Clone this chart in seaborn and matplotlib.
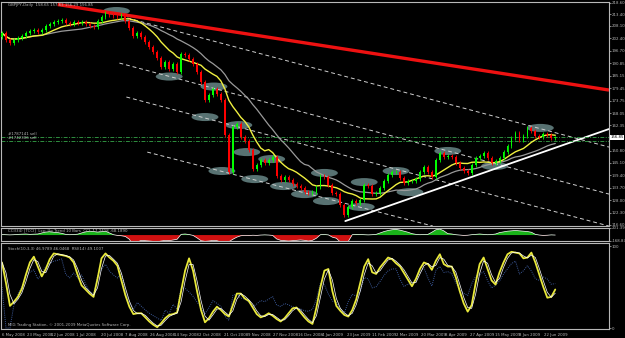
import numpy as np
import pandas as pd
import matplotlib
matplotlib.use("Agg")
import matplotlib.pyplot as plt
from matplotlib.patches import Ellipse
import seaborn as sns

# daily closes (one value per candle)
closes = [204.8, 201.6, 200.2, 201.6, 202.5, 203.4, 204.8, 205.7, 206.2, 205.3,
          206.2, 208.0, 209.0, 209.9, 210.3, 210.8, 209.4, 209.0, 209.9, 209.4,
          209.9, 209.0, 208.0, 207.6, 210.3, 212.2, 214.0, 213.1, 212.6, 212.2,
          213.1, 210.3, 207.1, 203.4, 204.8, 203.0, 200.7, 198.4, 196.1, 193.3,
          189.2, 191.5, 188.3, 190.6, 186.9, 195.2, 194.7, 192.9, 190.6, 186.9,
          182.3, 174.0, 176.3, 179.1, 176.8, 174.0, 157.9, 140.9, 161.6, 163.0,
          157.0, 155.2, 151.0, 142.3, 144.2, 146.5, 145.1, 146.5, 147.8, 139.1,
          137.3, 138.6, 137.3, 135.4, 134.5, 133.6, 131.7, 131.3, 131.7, 134.0,
          139.1, 138.6, 135.0, 131.3, 130.8, 125.8, 121.2, 124.9, 127.6, 126.7,
          128.1, 135.0, 134.5, 130.8, 131.3, 133.6, 136.8, 139.6, 140.9, 140.9,
          138.2, 135.9, 136.8, 136.8, 137.7, 140.9, 143.2, 140.9, 138.6, 146.5,
          149.7, 147.8, 148.3, 147.8, 145.1, 142.8, 141.4, 140.5, 144.2, 147.4,
          148.3, 149.7, 147.4, 145.1, 146.0, 147.4, 150.1, 152.9, 156.6, 158.9,
          155.6, 157.5, 161.2, 159.8, 157.5, 157.0, 158.4, 157.9, 156.6, 156.8]
first_open = 203.0

stoch_main = [80, 55, 27, 32, 38, 48, 65, 80, 87, 75, 63, 72, 84, 91, 90, 89, 88, 86, 80, 65,
              52, 47, 42, 38, 60, 85, 91, 86, 82, 76, 58, 40, 26, 17, 18, 18, 13, 8, 4, 1,
              6, 12, 16, 17, 19, 45, 70, 85, 70, 45, 22, 7, 12, 20, 26, 22, 17, 14, 28, 42,
              42, 36, 33, 25, 17, 13, 15, 18, 15, 11, 8, 12, 18, 24, 25, 19, 13, 8, 5, 25,
              50, 70, 72, 45, 27, 21, 16, 14, 22, 35, 55, 75, 84, 68, 66, 74, 80, 86, 84, 79,
              75, 67, 59, 51, 60, 72, 80, 78, 71, 82, 90, 78, 75, 75, 62, 45, 30, 20, 28, 55,
              78, 86, 72, 58, 53, 68, 80, 90, 93, 92, 91, 85, 86, 92, 80, 65, 50, 37, 38, 47]

cci_values = [15, 10, 5, 10, 20, 25, 30, 20, 25, 30,
              60, 85, 95, 80, 70, 50, 20, 10, 15, 25,
              60, 90, 110, 100, 85, 95, 110, 60, 10, -10, -20, -40,
              -120, -300, -200, -150, -160, -170, -180, -190, -170, -150, -160, -140, -120,
              20, 30, 15, -10,
              -80, -160, -180, -170, -150, -160, -200, -220, -190, -120, -60,
              -20, -10, -15, -5, -10, 0, 5, 0, -10,
              -110, -150, -160, -170, -160, -150, -140, -150, -170, -150, -90,
              10, 15, 5, -60, -90, -200, -320, -180,
              10, 20, 15, 10, 5, 10, 20,
              60, 100, 130, 150, 160, 140, 110, 80, 40,
              20, 10, 15, 20, 80, 150, 170, 120,
              40, 30, 10, 0, -10, -5, 10, 20, 30, 20, 10, 15, 30,
              70, 90, 110, 120, 130, 120, 110, 100, 80,
              20, 0, -10, -5, 5, 0]

date_labels = ["6 May 2008", "23 May 2008", "12 Jun 2008", "1 Jul 2008", "20 Jul 2008",
               "7 Aug 2008", "26 Aug 2008", "14 Sep 2008", "2 Oct 2008", "21 Oct 2008",
               "9 Nov 2008", "27 Nov 2008", "16 Dec 2008", "4 Jan 2009", "23 Jan 2009",
               "11 Feb 2009", "2 Mar 2009", "20 Mar 2009", "8 Apr 2009", "27 Apr 2009",
               "15 May 2009", "3 Jun 2009", "22 Jun 2009"]

price_ticks = [116.60, 122.30, 128.00, 133.70, 139.40, 145.10, 150.80, 156.50, 162.35,
               168.05, 173.75, 179.45, 185.15, 190.85, 196.70, 202.40, 208.10, 213.40, 218.60]

# marked swing highs / lows (bar, price)
ellipse_bar = [28.75, 42, 51, 53.25, 55.25, 59.5, 61.5, 63.5, 67.75, 70.75,
               76, 81, 81.5, 90.25, 91, 112, 99, 102.5, 123.75, 135.25]
ellipse_price = [214.9, 184.8, 166.2, 180.2, 141.4, 162.5, 150.1, 137.7, 146.9, 134.5,
                 130.8, 140.5, 127.6, 124.9, 136.3, 150.6, 141.4, 131.7, 143.7, 161.2]

# descending channel lines (start bar, start price, end bar, end price)
channel_x0 = [31.5, 29.5, 31.25, 36.5]
channel_y0 = [211.7, 191.0, 175.4, 150.1]
channel_x1 = [152.5, 152.5, 152.5, 108.25]
channel_y1 = [152.4, 130.8, 116.1, 116.1]

resist_x = [14, 152.5]
resist_y = [217.9, 178.6]
support_x = [86.25, 152.5]
support_y = [118.4, 160.7]
order_levels = [156.8, 155.2]
order_names = ["#1787141 sell", "#1742306 sell"]
last_price = 156.85

sns.set_style("dark", {"axes.facecolor": "black", "figure.facecolor": "black"})
plt.rcParams["font.family"] = ["DejaVu Sans"]

n = len(closes)
bars = np.arange(n)
c = pd.Series(closes)
o = c.shift(1).fillna(first_open)
ma_fast = c.rolling(10, min_periods=1).mean()
ma_slow = c.rolling(20, min_periods=1).mean()

delta = c.diff().fillna(0)
gain = delta.clip(lower=0).ewm(alpha=1 / 7, adjust=False).mean()
loss = (-delta.clip(upper=0)).ewm(alpha=1 / 7, adjust=False).mean()
rsi = 100 - 100 / (1 + gain / loss.replace(0, np.nan))
rsi = rsi.fillna(50)
stoch = pd.Series(stoch_main, dtype=float)
stoch_sig = stoch.rolling(2, min_periods=1).mean()

fig = plt.figure(figsize=(6.25, 3.38), dpi=100)
fig.patch.set_facecolor("black")
ax = fig.add_axes([0.0016, 0.3314, 0.9728, 0.6627])
ax_cci = fig.add_axes([0.0016, 0.2870, 0.9728, 0.0385], sharex=ax)
ax_st = fig.add_axes([0.0016, 0.0266, 0.9728, 0.2544], sharex=ax)

grey = "#b8b8b8"
tiny = 2.8
for a in (ax, ax_cci, ax_st):
    a.set_facecolor("black")
    for s in a.spines.values():
        s.set_color(grey)
        s.set_linewidth(0.8)
    a.yaxis.tick_right()
    a.tick_params(axis="y", colors=grey, labelsize=tiny, length=1.2, width=0.5, pad=0.6)
    a.tick_params(axis="x", colors=grey, labelsize=tiny, length=2, width=0.5, pad=0.8)

# ellipses
for bx, py in zip(ellipse_bar, ellipse_price):
    ax.add_patch(Ellipse((bx, py), 6.75, 3.7, facecolor="#587272", edgecolor="none", zorder=1))

# channel
for x0, y0, x1, y1 in zip(channel_x0, channel_y0, channel_x1, channel_y1):
    ax.plot([x0, x1], [y0, y1], color="#d0d0d0", lw=0.7, dashes=(4, 3), zorder=2)
ax.plot(resist_x, resist_y, color="#ee1111", lw=2.4, zorder=2, solid_capstyle="butt")
ax.plot(support_x, support_y, color="white", lw=1.3, zorder=2)
for lvl, name in zip(order_levels, order_names):
    ax.axhline(lvl, color="#2f8f3f", lw=0.7, dashes=(4, 1.5, 1, 1.5), zorder=2)
    ax.text(1.5, lvl + 0.5, name, color=grey, fontsize=tiny, va="bottom", zorder=5)

# moving averages
sns.lineplot(x=bars, y=ma_slow, ax=ax, color="#9a9a9a", lw=0.9, zorder=3)
sns.lineplot(x=bars, y=ma_fast, ax=ax, color="#f0f040", lw=1.0, zorder=3)

# candles
up = c >= o
body_lo = np.minimum(o, c)
body_hi = np.maximum(o, c)
cols = np.where(up, "#00ff00", "#ff0000")
ax.vlines(bars, body_lo - 0.8, body_hi + 0.8, colors=cols, lw=0.6, zorder=4)
ax.bar(bars, body_hi - body_lo + 0.15, bottom=body_lo, width=0.45, color=cols,
       edgecolor="none", linewidth=0, zorder=4)

ax.set_xlim(-0.25, 152.5)
ax.set_ylim(116.14, 219.06)
ax.set_yticks(price_ticks)
ax.set_yticklabels([f"{v:.2f}" for v in price_ticks])
ax.tick_params(axis="x", labelbottom=False, length=0)
ax.text(1.002, last_price, f"{last_price:.2f}", transform=ax.get_yaxis_transform(),
        fontsize=tiny, color="black", va="center", ha="left",
        bbox=dict(facecolor="white", edgecolor="none", pad=0.3))
ax.text(1.5, 217.2, "GBPJPY,Daily  158.65 157.63 156.29 156.85", color=grey, fontsize=tiny, zorder=5)

# CCI panel
cci = pd.Series(cci_values, dtype=float)
ax_cci.fill_between(bars, 0, cci, where=cci > 0, color="#19b319", interpolate=True, lw=0)
ax_cci.fill_between(bars, 0, cci, where=cci < 0, color="#d01010", interpolate=True, lw=0)
sns.lineplot(x=bars, y=cci, ax=ax_cci, color="white", lw=0.5)
ax_cci.set_ylim(-168.87, 201.39)
ax_cci.set_yticks([201.39, -168.87])
ax_cci.set_yticklabels(["201.39", "-168.87"])
ax_cci.tick_params(axis="x", labelbottom=False, length=0)
ax_cci.text(1.5, 120, "CCI(34) [TCCI]  Lsp: Up Trend 10 Bars  CCI  17.2418 -68.1890",
            color=grey, fontsize=tiny, va="center")

# stochastic panel
sns.lineplot(x=bars, y=rsi, ax=ax_st, color="#3c5a9a", lw=0.7, linestyle=(0, (1, 1.2)))
sns.lineplot(x=bars, y=stoch, ax=ax_st, color="#e8e83a", lw=1.3)
sns.lineplot(x=bars, y=stoch_sig, ax=ax_st, color="white", lw=0.5)
ax_st.set_ylim(-1.2, 103.7)
ax_st.set_yticks([0, 100])
ax_st.set_yticklabels(["0", "100"])
ax_st.text(1.5, 96, "Stoch(10,3,3) 46.9789 46.0468  RSI(14) 49.1007", color=grey, fontsize=tiny, va="center")
ax_st.text(1.5, 1.5, "MIG Trading Station, \u00a9 2001-2009 MetaQuotes Software Corp.",
           color=grey, fontsize=tiny, va="bottom")

label_step = 6.19
ax_st.set_xticks(np.arange(len(date_labels)) * label_step)
ax_st.set_xticklabels(date_labels, ha="left")
ax_st.set_xlim(-0.25, 152.5)

for a in (ax, ax_cci, ax_st):
    a.set_xlabel(None)
    a.set_ylabel(None)
    a.yaxis.label.set_visible(False)
    a.xaxis.label.set_visible(False)

fig.savefig("out.png", dpi=100, facecolor="black")
